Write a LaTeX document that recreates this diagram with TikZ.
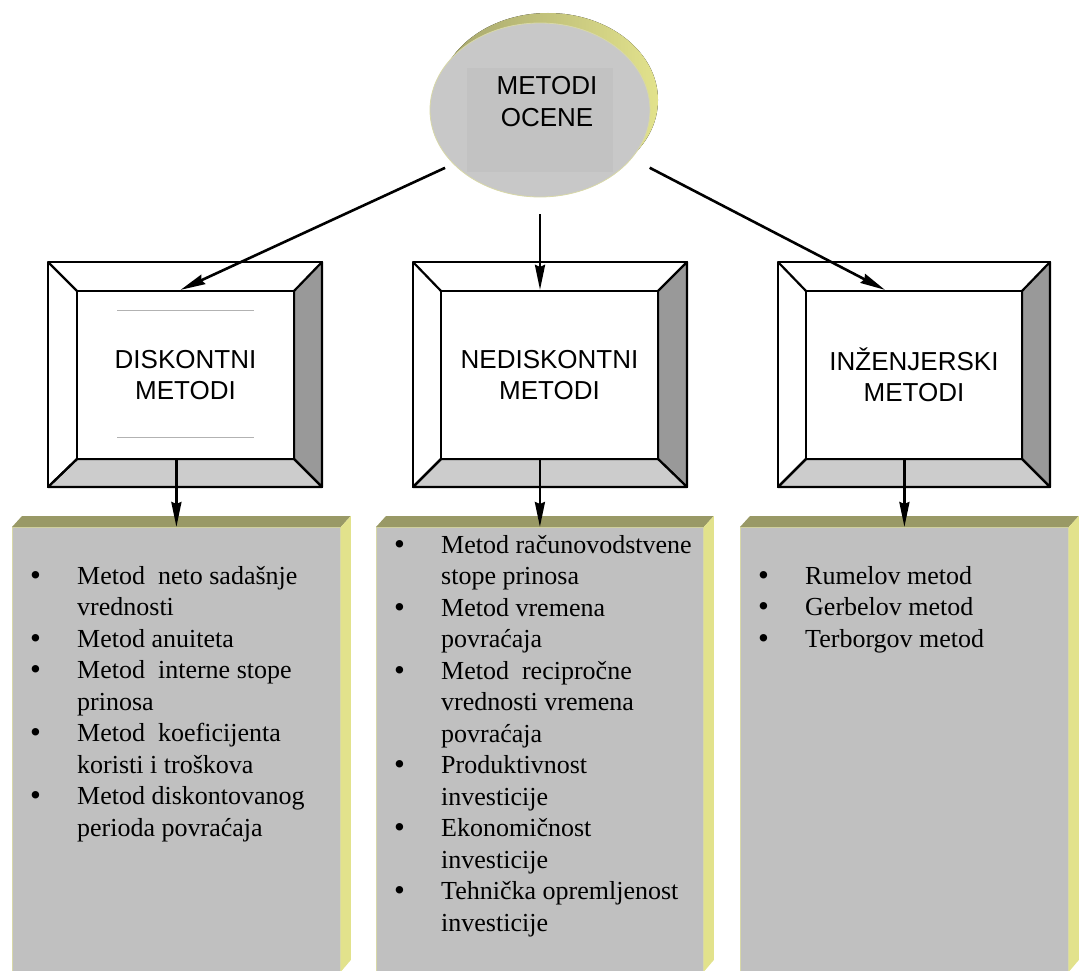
\documentclass[tikz,border=0pt]{standalone}
\usepackage{fontspec}
\setmainfont{Liberation Serif}
\setsansfont{Liberation Sans}
\usepackage{tikz}
\usetikzlibrary{positioning, arrows.meta, shapes.geometric, calc}

\definecolor{facegray}{HTML}{C0C0C0}
\definecolor{ovalgray}{HTML}{C8C8C8}
\definecolor{squaregray}{HTML}{C2C2C2}
\definecolor{olivetop}{HTML}{999966}
\definecolor{yellowside}{HTML}{E2E28C}
\definecolor{edgeyellow}{HTML}{D8D8A8}
\definecolor{rimdark}{HTML}{A4A46C}
\definecolor{bevelright}{HTML}{999999}
\definecolor{bevelbottom}{HTML}{CCCCCC}

\newcommand{\itemdot}{\raisebox{-1pt}[0pt][0pt]{\fontsize{31}{31}\selectfont\textbullet}}

\begin{document}
\begin{tikzpicture}[x=1pt, y=-1pt,
    inner/.style={rectangle, draw=black, line width=2.2pt, fill=white, minimum width=217pt,
                  minimum height=168pt, inner sep=0pt, align=center,
                  font=\sffamily\fontsize{26}{31}\selectfont},
    listface/.style={rectangle, fill=facegray, draw=edgeyellow, line width=0.8pt,
                     minimum width=328pt, minimum height=444pt, inner sep=0pt, anchor=north west},
    listtext/.style={anchor=base west, inner sep=0pt, font=\fontsize{26}{31.5}\selectfont},
    frame/.style={line width=2.2pt, line join=round},
    arrow/.style={-{Stealth[length=25pt, width=10pt, inset=2pt]}, line width=2.6pt}
]
    \useasboundingbox (0,0) rectangle (1081,971);

    % Top oval
    \fill[left color=rimdark, middle color=rimdark!85!yellowside, right color=yellowside]
        (548,100) ellipse [x radius=110pt, y radius=87pt];
    \node[ellipse, fill=ovalgray, draw=edgeyellow, line width=0.8pt, minimum width=220pt,
          minimum height=174pt, inner sep=0pt] (ocene) at (540,110) {};
    \fill[squaregray] (467,68) rectangle (613,172);
    \node[font=\sffamily\fontsize{26}{32}\selectfont, align=center] (ocenetxt) at (547,102) {METODI\\OCENE};

    % Bevel frames
    \foreach \xa/\xb/\xc/\xd in {48/77/294/322, 413/441/658/687, 778/806/1022/1050} {
        \filldraw[frame, fill=white] (\xa,262) rectangle (\xd,487);
        \filldraw[frame, fill=bevelright] (\xc,291) -- (\xd,262) -- (\xd,487) -- (\xc,459) -- cycle;
        \filldraw[frame, fill=bevelbottom] (\xb,459) -- (\xc,459) -- (\xd,487) -- (\xa,487) -- cycle;
        \draw[frame] (\xa,262) -- (\xb,291) (\xa,487) -- (\xb,459);
    }

    % Middle row
    \node[inner] (disk) at (185.5,375) {DISKONTNI\\METODI};
    \node[inner] (nedisk) at (549.5,375) {NEDISKONTNI\\METODI};
    \node[inner, minimum width=216pt] (inz) at (914,375) {INŽENJERSKI\\METODI};
    \draw[black!30, line width=0.6pt] (117,310) -- (254,310) (117,437) -- (254,437);

    % Lists
    \node[listface] (listdisk) at (12,527) {};
    \node[listface, minimum width=327pt] (listnedisk) at (376,527) {};
    \node[listface] (listinz) at (740,527) {};
    \foreach \l in {listdisk, listnedisk, listinz} {
        \fill[olivetop] (\l.north west) -- ++(10,-11) -- ($(\l.north east)+(10,-11)$) -- (\l.north east) -- cycle;
        \fill[yellowside] (\l.north east) -- ++(10,-11) -- ++(0,444) -- (\l.south east) -- cycle;
    }

    \node[listtext] (disktext) at (30,584) {\begin{tabular}[t]{@{}p{47pt}@{}l@{}}
        \itemdot & Metod\ \ neto sadašnje\\
                 & vrednosti\\
        \itemdot & Metod anuiteta\\
        \itemdot & Metod\ \ interne stope\\
                 & prinosa\\
        \itemdot & Metod\ \ koeficijenta\\
                 & koristi i troškova\\
        \itemdot & Metod diskontovanog\\
                 & perioda povraćaja
    \end{tabular}};
    \node[listtext] (nedisktext) at (394,553) {\begin{tabular}[t]{@{}p{47pt}@{}l@{}}
        \itemdot & Metod računovodstvene\\
                 & stope prinosa\\
        \itemdot & Metod vremena\\
                 & povraćaja\\
        \itemdot & Metod\ \ recipročne\\
                 & vrednosti vremena\\
                 & povraćaja\\
        \itemdot & Produktivnost\\
                 & investicije\\
        \itemdot & Ekonomičnost\\
                 & investicije\\
        \itemdot & Tehnička opremljenost\\
                 & investicije
    \end{tabular}};
    \node[listtext] (inztext) at (758,584) {\begin{tabular}[t]{@{}p{47pt}@{}l@{}}
        \itemdot & Rumelov metod\\
        \itemdot & Gerbelov metod\\
        \itemdot & Terborgov metod
    \end{tabular}};

    % Arrows
    \draw[arrow] ([shift={(-7pt,-5pt)}]ocene.211) -- ([xshift=-5pt]disk.north);
    \draw[arrow] ([yshift=-17pt]ocene.south) -- (ocene.south |- nedisk.north);
    \draw[arrow] ([shift={(18pt,-9pt)}]ocene.332) -- ([xshift=-29pt]inz.north);
    \draw[arrow] (disk.south -| listdisk.north) -- (listdisk.north);
    \draw[arrow] (nedisk.south -| listnedisk.north) -- (listnedisk.north);
    \draw[arrow] (inz.south -| listinz.north) -- (listinz.north);

\end{tikzpicture}
\end{document}
